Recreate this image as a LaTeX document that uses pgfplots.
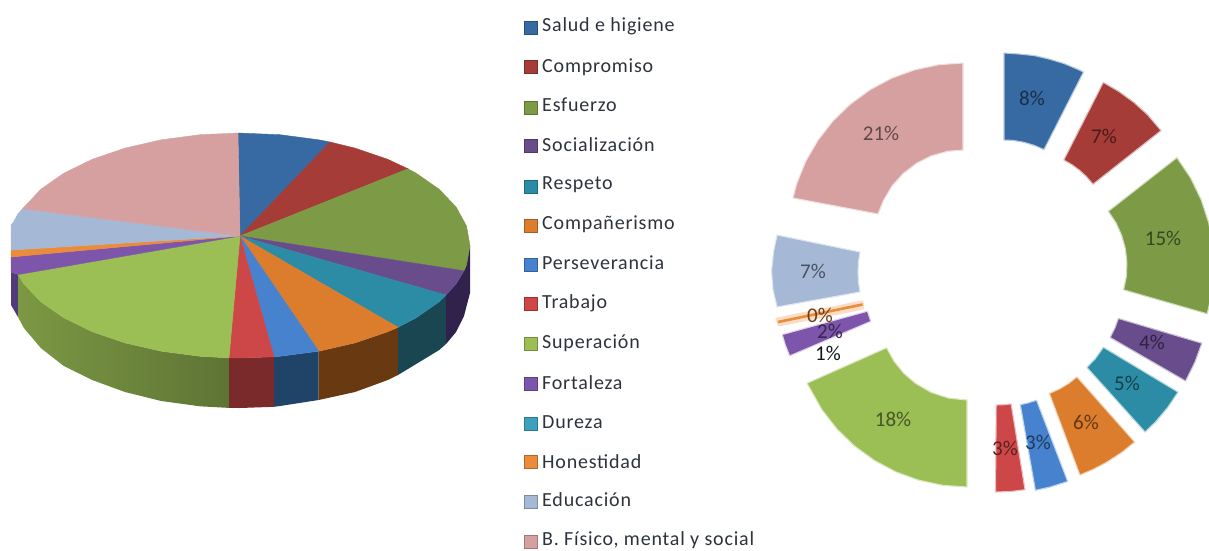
\documentclass[border=0pt]{standalone}
\usepackage{pgfplots}
\pgfplotsset{compat=1.18}
\usepackage{fontspec}
\setmainfont{Carlito}
\newfontfamily\legf[LetterSpace=4]{Carlito}
\definecolor{cA}{RGB}{55,105,162}
\definecolor{cB}{RGB}{165,60,56}
\definecolor{cC}{RGB}{125,155,70}
\definecolor{cD}{RGB}{104,76,140}
\definecolor{cE}{RGB}{45,140,165}
\definecolor{cF}{RGB}{220,125,45}
\definecolor{cG}{RGB}{70,130,205}
\definecolor{cH}{RGB}{205,70,72}
\definecolor{cI}{RGB}{155,190,85}
\definecolor{cJ}{RGB}{125,85,170}
\definecolor{cK}{RGB}{60,160,190}
\definecolor{cL}{RGB}{235,140,60}
\definecolor{cM}{RGB}{165,185,215}
\definecolor{cN}{RGB}{215,160,160}
\definecolor{sB}{RGB}{122,42,42}
\definecolor{sD}{RGB}{48,34,76}
\definecolor{sE}{RGB}{26,70,82}
\definecolor{sF}{RGB}{105,58,18}
\definecolor{sG}{RGB}{31,68,104}
\definecolor{sJ}{RGB}{80,60,120}
\definecolor{txt}{RGB}{45,50,60}
\newcommand\pietop[2]{\addplot[fill=#1,draw=#1,line width=0.4pt] coordinates {#2} --cycle;}
\newcommand\wdg[2]{\addplot[fill=#1,draw=#1!35!white,line width=1.1pt,line join=round] coordinates {#2} --cycle;}
\newcommand\lbl[4]{\node[font=\fontsize{21}{21}\selectfont,text=#1!45!black,inner sep=0pt] at (axis cs:#2,#3) {#4\%};}
\newcommand\leg[4]{\addplot[only marks,mark=square*,mark size=6.5pt,mark options={fill=#1,draw=#1!75!black}] coordinates {(531,#2)};
  \node[anchor=west,font=\legf\fontsize{20}{20}\selectfont,text=txt,inner sep=0pt] at (axis cs:542,#3) {#4};}
\begin{document}
\begin{tikzpicture}
\path[use as bounding box] (0,0) rectangle (1209pt,550pt);
\begin{axis}[at={(0,0)},anchor=south west,width=1209pt,height=550pt,scale only axis,xmin=0,xmax=1209,ymin=0,ymax=550,y dir=reverse,hide axis,clip=true]
% --- 3-D pie: sides ---
\addplot[fill=sJ,draw=none] coordinates {(11,272)(18,274.6)(18,317)(11,305)} --cycle;
\addplot[left color=cI!80!black,right color=cC!75!black,draw=none] coordinates {(18,274.6)(23.9,284)(40.8,301.75)(63.8,317.8)(92.2,331.7)(125,342.9)(161.3,351.2)(200,356.3)(229,357.9)(229,407.9)(200,406.3)(161.3,401)(125,392)(92.2,380)(63.8,366)(40.8,348)(23.9,328)(18,317)} --cycle;
\addplot[fill=sB,draw=none] coordinates {(229,357.9)(240,358)(274,356.8)(274,406.8)(240,408)(229,407.9)} --cycle;
\addplot[fill=sG,draw=none] coordinates {(274,356.8)(280,356.3)(318.7,351.2)(318.7,400)(280,406)(274,406.8)} --cycle;
\addplot[fill=sF,draw=none] coordinates {(318.7,351.2)(355,342.9)(387.8,331.7)(398,327.3)(398,375)(387.8,380)(355,392)(318.7,400)} --cycle;
\addplot[fill=sE,draw=none] coordinates {(398,327.3)(416.2,317.8)(439.2,301.75)(446,295)(446,344)(439.2,350)(416.2,364)(398,375)} --cycle;
\addplot[fill=sD,draw=none] coordinates {(446,295)(456.1,284)(464,270.8)(470,245.5)(470,293)(464,316)(456.1,332)(446,344)} --cycle;
% --- 3-D pie: top face ---
\pietop{cA}{(240,236)(238,133)(280,134.7)(318.7,139.8)(330,142)}
\pietop{cB}{(240,236)(330,142)(355,148.1)(387.8,159.3)(408,168.8)}
\pietop{cC}{(240,236)(408,168.8)(416.2,173.2)(439.2,189.25)(456.1,207)(466.5,226)(470,245.5)(466.5,265)(464,270.8)}
\pietop{cD}{(240,236)(464,270.8)(456.1,284)(446,295)}
\pietop{cE}{(240,236)(446,295)(439.2,301.75)(416.2,317.8)(398,327.3)}
\pietop{cF}{(240,236)(398,327.3)(387.8,331.7)(355,342.9)(318.7,351.2)}
\pietop{cG}{(240,236)(318.7,351.2)(280,356.3)(274,356.8)}
\pietop{cH}{(240,236)(274,356.8)(240,358)(229,357.9)}
\pietop{cI}{(240,236)(229,357.9)(200,356.3)(161.3,351.2)(125,342.9)(92.2,331.7)(63.8,317.8)(40.8,301.75)(23.9,284)(18,274.6)}
\pietop{cJ}{(240,236)(18,274.6)(11,272)(11,257)}
\pietop{cL}{(240,236)(11,257)(11,250)}
\pietop{cM}{(240,236)(11,250)(11,225)(13.5,222)(17.8,214)(22.5,208.8)}
\pietop{cN}{(240,236)(22.5,208.8)(40.8,189.25)(63.8,173.2)(92.2,159.3)(125,148.1)(161.3,139.8)(200,134.7)(238,133)}
% --- exploded doughnut ---
\wdg{cA}{(1004,53)(1019,54)(1034.5,55.6)(1049,59)(1064,63.5)(1078,69.4)(1083.5,72)(1044,149.6)(1034,145.3)(1024,142.3)(1013,140.4)(1004,140)}
\wdg{cB}{(1103.3,82.4)(1119,91.6)(1133.9,102.4)(1147.5,114.7)(1161,130.6)(1093,184.2)(1086,176.2)(1079.2,170)(1071.8,164.6)(1063.8,160)}
\wdg{cC}{(1176.9,157.7)(1190.6,178)(1201.2,199.9)(1208.8,223.2)(1213,247.1)(1213.9,271.6)(1211.3,295.9)(1207.2,313.8)(1123.6,289.8)(1126.4,276.2)(1126.9,262.4)(1125.4,248.7)(1121.7,235.4)(1116,222.8)(1108.3,211.3)}
\wdg{cD}{(1118.4,318.5)(1201.8,343.2)(1195,361.9)(1185.6,381)(1110.2,337.5)(1115,327.9)}
\wdg{cE}{(1103.4,347.3)(1178,392.1)(1167.8,407.3)(1155.9,421.4)(1145.1,432)(1086.9,367.4)(1095.4,358.6)}
\wdg{cF}{(1076.9,376.9)(1134.6,442)(1121.5,452.6)(1106.1,462.6)(1092.6,469.6)(1079.9,475)(1049.4,393.5)(1059.9,388.7)(1069.1,383.1)}
\wdg{cG}{(1036.5,400.2)(1067.7,481.4)(1050.3,487)(1035.4,490.3)(1020.3,404.7)(1027.8,403)}
\wdg{cH}{(1011.1,403.9)(1025,489.7)(1010.7,491.5)(995.5,492)(996.2,405)(1003.9,404.7)}
\wdg{cI}{(967,400)(967,487)(942.6,485.3)(918.8,480.2)(895.8,471.9)(874.3,460.4)(854.5,446)(837,429.1)(822,409.8)(807,383.2)(886.6,347.8)(894,361.2)(903.7,373.2)(915.3,383.2)(931.2,392.4)(948.7,398.1)}
% thin slices: pale halo, then the slice itself
\addplot[fill=cL!30!white,draw=cL!30!white,line width=3pt,line join=round] coordinates {(862,302)(863,308)(779,325)(777,319)} --cycle;
\addplot[draw=cL,line width=2.6pt] coordinates {(862.5,304.5)(778,322)};
\addplot[fill=cJ!25!white,draw=cJ!25!white,line width=2.5pt,line join=round] coordinates {(867,312)(870,321)(790,355)(786,345)(783,335)} --cycle;
\addplot[fill=cJ,draw=none] coordinates {(867,312)(870,321)(790,355)(786,345)(783,335)} --cycle;
\wdg{cM}{(777,235)(860,252)(858.5,262)(858,272)(858.5,282)(860,292)(777,307)(773,290)(771.5,271)(773.5,252)}
\wdg{cN}{(963,63)(938.6,64.7)(914.8,69.8)(891.8,78.1)(870.3,89.6)(850.5,104)(833,120.9)(818,140.2)(805.7,161.3)(796.6,183.9)(793,198)(878,214)(883.3,200.8)(891.8,186.3)(903,173.7)(916.4,163.4)(931.5,155.8)(947.7,151.3)(963,150)}
% --- slice labels ---
\lbl{cA}{1032}{98}{8}
\lbl{cB}{1104}{136}{7}
\lbl{cC}{1163}{238}{15}
\lbl{cD}{1152}{342}{4}
\lbl{cE}{1127}{383}{5}
\lbl{cF}{1086}{422}{6}
\lbl{cG}{1038}{442}{3}
\lbl{cH}{1005}{448}{3}
\lbl{cI}{893}{419}{18}
\lbl{cJ}{830}{331}{2}
\lbl{cL}{820}{315}{0}
\lbl{txt}{828}{353}{1}
\lbl{cM}{813}{271}{7}
\lbl{cN}{881}{133}{21}
% --- legend ---
\leg{cA}{28}{26}{Salud e higiene}
\leg{cB}{67}{67}{Compromiso}
\leg{cC}{108}{105}{Esfuerzo}
\leg{cD}{146}{145}{Socialización}
\leg{cE}{187}{185}{Respeto}
\leg{cF}{226}{224}{Compañerismo}
\leg{cG}{265}{263}{Perseverancia}
\leg{cH}{304}{303}{Trabajo}
\leg{cI}{344}{343}{Superación}
\leg{cJ}{384}{383}{Fortaleza}
\leg{cK}{424}{422}{Dureza}
\leg{cL}{462}{462}{Honestidad}
\leg{cM}{502}{500}{Educación}
\leg{cN}{542}{540}{B. Físico, mental y social}
\end{axis}
\end{tikzpicture}
\end{document}
